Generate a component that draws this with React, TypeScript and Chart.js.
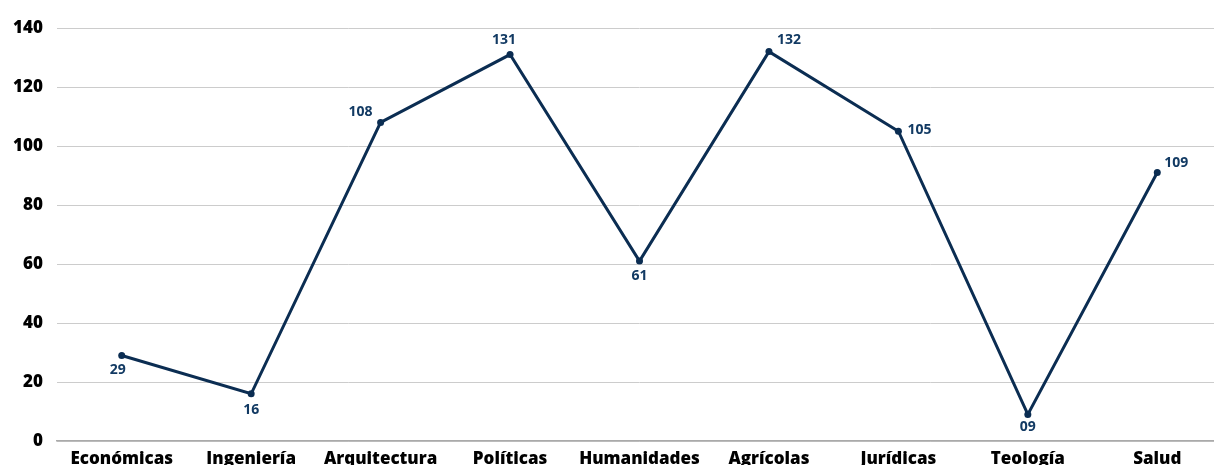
import React, { useEffect, useRef } from "react";
import { Chart, registerables } from "chart.js";

Chart.register(...registerables);

const categories = ["Económicas", "Ingeniería", "Arquitectura", "Políticas", "Humanidades", "Agrícolas", "Jurídicas", "Teología", "Salud"];
const values = [29, 16, 108, 131, 61, 132, 105, 9, 91];
const valueLabels = ["29", "16", "108", "131", "61", "132", "105", "09", "109"];
const yTicks = [0, 20, 40, 60, 80, 100, 120, 140];

// label placement offsets (style only)
const labelOffsets: [number, number][] = [
  [-4, 15], [0, 16], [-20, -10], [-6, -15], [0, 15], [20, -12], [21, -1], [0, 13], [19, -10],
];

const LINE = "#0b2d52";
const LABEL = "#123a63";

const labelPlugin = {
  id: "valueLabels",
  afterDatasetsDraw(chart: any) {
    const ctx = chart.ctx;
    const meta = chart.getDatasetMeta(0);
    ctx.save();
    ctx.font = "bold 14px 'Open Sans'";
    ctx.fillStyle = LABEL;
    ctx.textAlign = "center";
    ctx.textBaseline = "middle";
    meta.data.forEach((pt: any, i: number) => {
      const [dx, dy] = labelOffsets[i];
      ctx.fillText(valueLabels[i], pt.x + dx, pt.y + dy);
    });
    ctx.restore();
  },
};

export default function App() {
  const ref = useRef<HTMLCanvasElement>(null);
  useEffect(() => {
    const chart = new Chart(ref.current!, {
      type: "line",
      data: {
        labels: categories,
        datasets: [
          {
            data: values,
            borderColor: LINE,
            backgroundColor: LINE,
            borderWidth: 3,
            pointRadius: 3.5,
            pointBackgroundColor: LINE,
            pointBorderWidth: 0,
            tension: 0,
          },
        ],
      },
      options: {
        animation: false,
        responsive: false,
        maintainAspectRatio: false,
        layout: { padding: { top: 28, left: 0, right: 0, bottom: 0 } },
        plugins: { legend: { display: false }, tooltip: { enabled: false } },
        scales: {
          x: {
            offset: true,
            grid: { display: false, drawTicks: false },
            border: { display: true, color: "#aaaaaa", width: 1.5 },
            ticks: {
              color: "#000",
              padding: 8,
              maxRotation: 0,
              autoSkip: false,
              font: { family: "'Open Sans'", size: 17, weight: "800" },
            },
            afterFit: (s: any) => { s.height = 50; },
          },
          y: {
            min: 0,
            max: 140,
            afterBuildTicks: (s: any) => { s.ticks = yTicks.map((v) => ({ value: v })); },
            grid: { color: "#cccccc", lineWidth: 1, drawTicks: false },
            border: { display: false },
            ticks: {
              color: "#000",
              padding: 14,
              font: { family: "'Open Sans'", size: 17, weight: "800" },
            },
            afterFit: (s: any) => { s.width = 57; },
          },
        },
      },
      plugins: [labelPlugin],
    });
    return () => chart.destroy();
  }, []);
  return (
    <div style={{ position: "absolute", left: 0, top: 0, width: 1226, height: 491 }}>
      <canvas ref={ref} width={1226} height={491} style={{ display: "block" }} />
    </div>
  );
}
